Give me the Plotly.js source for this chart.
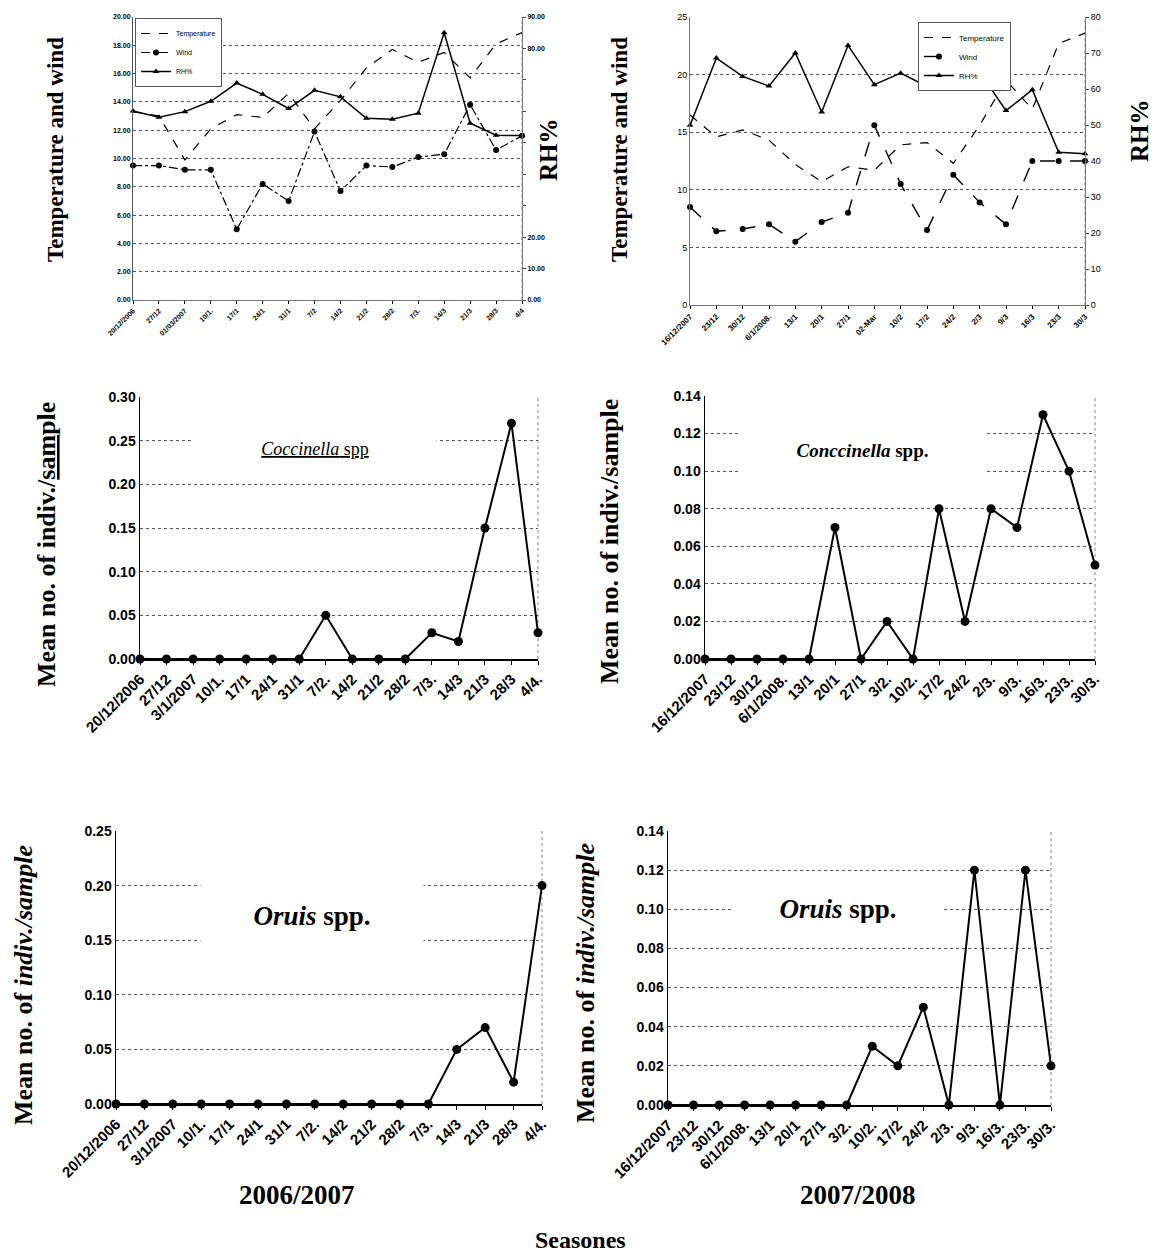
<!DOCTYPE html>
<html>
<head>
<meta charset="utf-8">
<script src="https://cdn.plot.ly/plotly-3.0.1.min.js"></script>
<style>html,body{margin:0;padding:0;background:#fff;}#chart{width:1161px;height:1254px;}</style>
</head>
<body>
<div id="chart"></div>
<script>
// ---------- DATA ----------
const tlDates = ['20/12/2006','27/12','01/03/2007','10/1.','17/1','24/1','31/1','7/2','14/2','21/2','28/2','7/3.','14/3','21/3','28/3','4/4'];
const tlTemp  = [13.3,13.0,9.9,12.1,13.1,12.9,14.6,12.1,14.1,16.4,17.7,16.8,17.5,15.7,18.1,18.9];
const tlWind  = [9.5,9.5,9.2,9.2,5.0,8.2,7.0,11.9,7.7,9.5,9.4,10.1,10.3,13.8,10.6,11.6];
const tlRH    = [60.1,58.1,59.9,63.2,69.0,65.4,60.9,66.7,64.6,57.8,57.5,59.4,85.0,56.2,52.4,52.3];

const trDates = ['16/12/2007','23/12','30/12','6/1/2008.','13/1','20/1','27/1','02-Mar','10/2','17/2','24/2','2/3','9/3','16/3','23/3','30/3'];
const trTemp  = [16.5,14.6,15.2,14.3,12.2,10.7,12.0,11.7,13.9,14.1,12.3,15.6,19.5,17.0,22.7,23.6];
const trWind  = [8.5,6.4,6.6,7.0,5.5,7.2,8.0,15.6,10.5,6.5,11.3,8.9,7.0,12.5,12.5,12.5];
const trRH    = [49.9,68.6,63.5,60.8,70.0,53.6,72.1,61.2,64.4,60.7,61.0,64.7,54.0,59.8,42.4,42.0];

const s1Dates = ['20/12/2006','27/12','3/1/2007','10/1.','17/1','24/1','31/1','7/2.','14/2','21/2','28/2','7/3.','14/3','21/3','28/3','4/4.'];
const s2Dates = ['16/12/2007','23/12','30/12','6/1/2008.','13/1','20/1','27/1','3/2.','10/2.','17/2','24/2','2/3.','9/3.','16/3.','23/3.','30/3.'];

const coccinella1 = [0,0,0,0,0,0,0,0.05,0,0,0,0.03,0.02,0.15,0.27,0.03];
const coccinella2 = [0,0,0,0,0,0.07,0,0.02,0,0.08,0.02,0.08,0.07,0.13,0.10,0.05];
const oruis1      = [0,0,0,0,0,0,0,0,0,0,0,0,0.05,0.07,0.02,0.20];
const oruis2      = [0,0,0,0,0,0,0,0,0.03,0.02,0.05,0,0.12,0,0.12,0.02];

// ---------- LAYOUT HELPERS ----------
const W = 1161, H = 1254;
const fx = p => p / W;
const fy = p => 1 - p / H;
const SERIF = 'Liberation Serif, Times New Roman, serif';
const SANS = 'Liberation Sans, Arial, sans-serif';
const GRID = {showgrid:true, gridcolor:'#555', griddash:'dot', gridwidth:1};

function catX(domain, anchor, fontSize) {
  return {
    type:'category', range:[0,15], domain:domain, anchor:anchor, tickangle:-45,
    tickfont:{family:SANS, size:fontSize, color:'#000', weight:'bold'},
    ticks:'outside', ticklen:4, tickcolor:'#000',
    showline:true, linecolor:'#000', linewidth:1.5, showgrid:false, automargin:false, fixedrange:true
  };
}
function valY(domain, anchor, maxv, dtick) {
  return Object.assign({
    domain:domain, anchor:anchor, range:[0,maxv], dtick:dtick, tickformat:'.2f',
    tickfont:{family:SANS, size:14, color:'#000', weight:'bold'},
    showline:true, linecolor:'#000', linewidth:1.5, ticks:'', zeroline:false,
    automargin:false, fixedrange:true
  }, GRID);
}

const lineStyle = {color:'#000', width:2};
const mk = {symbol:'circle', size:9, color:'#000'};
function speciesTrace(x, y, xa, ya) {
  return {x:x, y:y, xaxis:xa, yaxis:ya, type:'scatter', mode:'lines+markers',
          line:lineStyle, marker:mk, showlegend:false, cliponaxis:false, hoverinfo:'skip'};
}

const traces = [
  // top-left
  {x:tlDates, y:tlTemp, name:'Temperature', xaxis:'x', yaxis:'y', mode:'lines',
   line:{color:'#000', width:1.2, dash:'dash'}, legend:'legend', cliponaxis:false},
  {x:tlDates, y:tlWind, name:'Wind', xaxis:'x', yaxis:'y', mode:'lines+markers',
   line:{color:'#000', width:1.2, dash:'dashdot'}, marker:{symbol:'circle', size:6, color:'#000'}, legend:'legend', cliponaxis:false},
  {x:tlDates, y:tlRH, name:'RH%', xaxis:'x', yaxis:'y2', mode:'lines+markers',
   line:{color:'#000', width:1.5}, marker:{symbol:'triangle-up', size:6, color:'#000'}, legend:'legend', cliponaxis:false},
  // top-right
  {x:trDates, y:trTemp, name:'Temperature', xaxis:'x2', yaxis:'y3', mode:'lines',
   line:{color:'#000', width:1.2, dash:'dash'}, legend:'legend2', cliponaxis:false},
  {x:trDates, y:trWind, name:'Wind', xaxis:'x2', yaxis:'y3', mode:'lines+markers',
   line:{color:'#000', width:1.4, dash:'longdash'}, marker:{symbol:'circle', size:6, color:'#000'}, legend:'legend2', cliponaxis:false},
  {x:trDates, y:trRH, name:'RH%', xaxis:'x2', yaxis:'y4', mode:'lines+markers',
   line:{color:'#000', width:1.5}, marker:{symbol:'triangle-up', size:6, color:'#000'}, legend:'legend2', cliponaxis:false},
  // species
  speciesTrace(s1Dates, coccinella1, 'x3', 'y5'),
  speciesTrace(s2Dates, coccinella2, 'x4', 'y6'),
  speciesTrace(s1Dates, oruis1, 'x5', 'y7'),
  speciesTrace(s2Dates, oruis2, 'x6', 'y8')
];

const smallTick = {family:SANS, size:7, color:'#000', weight:'bold'};
const rhVals = [0,10,20,30,40,50,60,70,80,90];
const rhText = ['0.00','10.00','20.00','','','','','','80.00','90.00'];

function paperText(text, x, y, size, angle) {
  return {xref:'paper', yref:'paper', x:fx(x), y:fy(y), xanchor:'center', yanchor:'middle',
          showarrow:false, text:text, textangle:angle || 0,
          font:{family:SERIF, size:size, color:'#000', weight:'bold'}};
}
function boxText(xa, ya, x, y, text, size, w, h, bold) {
  return {xref:xa+' domain', yref:ya+' domain', x:x, y:y, xanchor:'center', yanchor:'middle',
          showarrow:false, text:text, font:{family:SERIF, size:size, color:'#000', weight: bold ? 'bold' : 'normal'},
          bgcolor:'#fff', width:w, height:h, valign:'middle'};
}

const layout = {
  width:W, height:H, autosize:false,
  margin:{l:0,r:0,t:0,b:0},
  paper_bgcolor:'#fff', plot_bgcolor:'#fff',
  font:{family:SANS, color:'#000'},
  hovermode:false,
  // ----- top-left -----
  xaxis: Object.assign(catX([fx(133), fx(522)], 'y', 7), {tickfont:smallTick, ticklen:3, linewidth:1, linecolor:'#777'}),
  yaxis: Object.assign({
    domain:[fy(300), fy(17)], anchor:'x', range:[0,20], dtick:2, tickformat:'.2f',
    tickfont:smallTick, showline:true, linecolor:'#555', linewidth:1, zeroline:false, automargin:false, fixedrange:true
  }, GRID),
  yaxis2: {
    overlaying:'y', side:'right', anchor:'x', range:[0,90], tickvals:rhVals, ticktext:rhText,
    tickfont:smallTick, ticks:'outside', ticklen:3, showline:true, linecolor:'#777', linewidth:1,
    showgrid:false, zeroline:false, automargin:false, fixedrange:true
  },
  // ----- top-right -----
  xaxis2: Object.assign(catX([fx(690), fx(1085)], 'y3', 8), {tickfont:{family:SANS, size:8, color:'#000', weight:'bold'}, ticklen:3, linewidth:1, linecolor:'#777'}),
  yaxis3: Object.assign({
    domain:[fy(305), fy(17)], anchor:'x2', range:[0,25], dtick:5,
    tickfont:{family:SANS, size:9, color:'#000'}, showline:true, linecolor:'#777', linewidth:1, zeroline:false,
    automargin:false, fixedrange:true
  }, GRID),
  yaxis4: {
    overlaying:'y3', side:'right', anchor:'x2', range:[0,80], dtick:10,
    tickfont:{family:SANS, size:9, color:'#000'}, ticks:'outside', ticklen:3, showline:true, linecolor:'#777', linewidth:1,
    showgrid:false, zeroline:false, automargin:false, fixedrange:true
  },
  // ----- middle -----
  xaxis3: catX([fx(140), fx(538)], 'y5', 15),
  yaxis5: valY([fy(659), fy(397)], 'x3', 0.30, 0.05),
  xaxis4: catX([fx(705), fx(1095)], 'y6', 15),
  yaxis6: valY([fy(659), fy(396)], 'x4', 0.14, 0.02),
  // ----- bottom -----
  xaxis5: catX([fx(116), fx(542)], 'y7', 15),
  yaxis7: valY([fy(1104), fy(831)], 'x5', 0.25, 0.05),
  xaxis6: catX([fx(668), fx(1051)], 'y8', 15),
  yaxis8: valY([fy(1105), fy(831)], 'x6', 0.14, 0.02),
  // legends
  legend: {x:fx(135), y:fy(18), xanchor:'left', yanchor:'top', bgcolor:'#fff', bordercolor:'#555', borderwidth:1,
           font:{family:SANS, size:7, color:'#000'}, itemwidth:30, tracegroupgap:0},
  legend2: {x:fx(918), y:fy(22), xanchor:'left', yanchor:'top', bgcolor:'#fff', bordercolor:'#555', borderwidth:1,
           font:{family:SANS, size:8, color:'#000'}, itemwidth:30, tracegroupgap:0},
  annotations: [
    // axis titles
    paperText('Temperature and wind', 56, 150, 23, -90),
    paperText('Temperature and wind', 620, 150, 23, -90),
    paperText('RH%', 549, 150, 25, -90),
    paperText('RH%', 1140, 131, 25, -90),
    paperText('Mean no. of indiv./<span style="text-decoration:underline">sam</span>ple', 47, 545, 26, -90),
    paperText('Mean no. of indiv./sample', 609, 542, 26, -90),
    paperText('Mean no. of <i>indiv./sample</i>', 23, 985, 26, -90),
    paperText('Mean no. of <i>indiv./sample</i>', 585, 983, 26, -90),
    paperText('2006/2007', 297, 1195, 27, 0),
    paperText('2007/2008', 858, 1195, 27, 0),
    paperText('Seasones', 580, 1240, 24, 0),
    // species labels
    boxText('x3', 'y5', 0.44, 0.80,
      '<span style="text-decoration:underline"><i>Coccinella</i> spp</span>', 18, 240, 22, false),
    boxText('x4', 'y6', 0.405, 0.795, '<i>Conccinella</i> spp.', 19, 243, 50, true),
    boxText('x5', 'y7', 0.46, 0.689, '<i>Oruis</i> spp.', 27, 220, 66, true),
    boxText('x6', 'y8', 0.444, 0.715, '<i>Oruis</i> spp.', 27, 206, 28, true)
  ],
  shapes: [
    ['x3','y5'],['x4','y6'],['x5','y7'],['x6','y8'],['x2','y3'],['x','y']
  ].map(p => ({type:'line', xref:p[0]+' domain', yref:p[1]+' domain', x0:1, x1:1, y0:0, y1:1,
               line:{color:'#888', width:1, dash:'dot'}, layer:'below'}))
};

Plotly.newPlot('chart', traces, layout, {staticPlot:true, displayModeBar:false});
</script>
</body>
</html>
